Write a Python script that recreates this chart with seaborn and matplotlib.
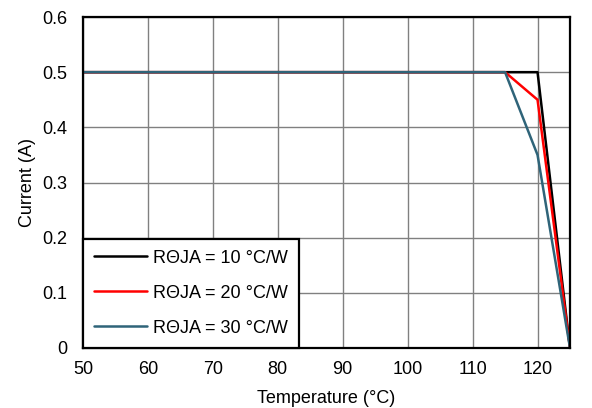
import numpy as np
import pandas as pd
import seaborn as sns
import matplotlib.pyplot as plt
from matplotlib.ticker import FuncFormatter

# derating curves
temp_10 = [50, 120, 125]
curr_10 = [0.5, 0.5, 0.0]
temp_20 = [50, 115, 120, 125]
curr_20 = [0.5, 0.5, 0.45, 0.0]
temp_30 = [50, 115, 120, 125]
curr_30 = [0.5, 0.5, 0.35, 0.0]
labels = ["RΘJA = 10 °C/W", "RΘJA = 20 °C/W", "RΘJA = 30 °C/W"]
colors = ["#000000", "#FF0000", "#2F6479"]

frames = []
for t, c, lab in zip([temp_10, temp_20, temp_30], [curr_10, curr_20, curr_30], labels):
    frames.append(pd.DataFrame({"temp": t, "curr": c, "series": lab}))
df = pd.concat(frames, ignore_index=True)

sns.set_style("white")
plt.rcParams['font.family'] = ['Liberation Sans', 'DejaVu Sans']
plt.rcParams['text.color'] = 'black'
plt.rcParams['axes.labelcolor'] = 'black'
plt.rcParams['xtick.color'] = 'black'
plt.rcParams['ytick.color'] = 'black'
fs = 13

fig = plt.figure(figsize=(5.92, 4.08), dpi=100)
ax = fig.add_axes([83 / 592, 1 - 348 / 408, 487 / 592, 331 / 408])

sns.lineplot(data=df, x="temp", y="curr", hue="series", palette=colors,
             hue_order=labels, sort=False, linewidth=1.8, ax=ax)

ax.set_xlim(50, 125)
ax.set_ylim(0, 0.6)
ax.set_xticks(np.arange(50, 121, 10))
ax.set_yticks(np.arange(0, 0.61, 0.1))
ax.yaxis.set_major_formatter(FuncFormatter(lambda v, p: "%g" % round(v, 2)))
ax.grid(True, color="#808080", linewidth=1.0)
ax.set_axisbelow(True)
ax.tick_params(axis="y", length=0, pad=11, labelsize=fs)
ax.tick_params(axis="x", length=0, pad=9, labelsize=fs)
for s in ax.spines.values():
    s.set_color("black")
    s.set_linewidth(1.6)

ax.set_xlabel("Temperature (°C)", fontsize=fs, labelpad=9)
ax.set_ylabel("Current (A)", fontsize=fs, labelpad=5)

leg = ax.legend(loc="lower left", bbox_to_anchor=(0, 0), borderaxespad=0,
                fontsize=fs, frameon=True, fancybox=False, handlelength=2.95,
                labelspacing=1.0, borderpad=0.62, handletextpad=0.3)
leg.get_frame().set_edgecolor("black")
leg.get_frame().set_linewidth(1.6)
leg.get_frame().set_alpha(1)

fig.savefig("out.png", dpi=100)
